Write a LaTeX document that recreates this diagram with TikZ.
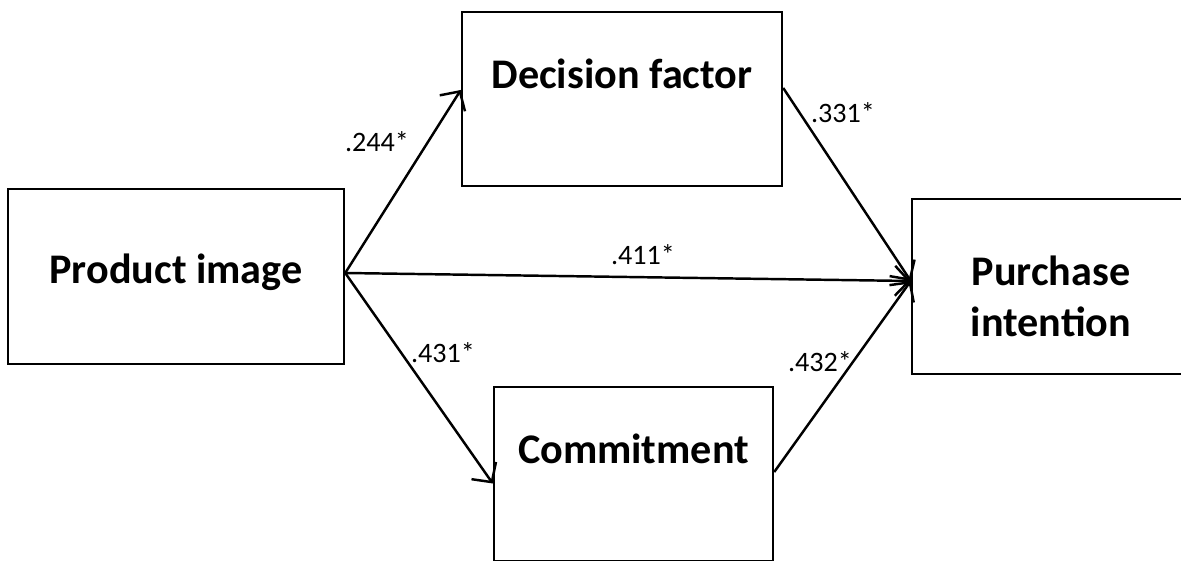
\documentclass[tikz,border=0pt]{standalone}
\usepackage{fontspec}
\setmainfont{Carlito}
\usetikzlibrary{arrows.meta}

\begin{document}
\begin{tikzpicture}[
    box/.style={draw,line width=1.4pt,inner sep=0pt,align=center,
        font=\bfseries\fontsize{24}{29}\selectfont,text height=0.6cm},
    effect/.style={->,>={Straight Barb[length=8pt,width=17pt]},line width=1.4pt},
    coef/.style={font=\fontsize{16}{19}\selectfont}]
    		\clip (0,0) rectangle (23.62,11.2);
    		\node (image) at (3.52,5.67) [box,minimum width=6.72cm,minimum height=3.5cm,text depth=0.32cm] {Product image};
    		\node (decision) at (12.44,9.22) [box,minimum width=6.4cm,minimum height=3.48cm,text depth=1.02cm] {Decision factor};
    		\node (commitment) at (12.67,1.72) [box,minimum width=5.58cm,minimum height=3.48cm,text depth=1.02cm] {Commitment};
    		\node (intention) at (21.02,5.47) [box,minimum width=5.56cm,minimum height=3.5cm,text height=2.0cm,text depth=0cm] {Purchase\\intention};
    		\draw [effect] ([yshift=0.07cm]image.east) -- ([yshift=0.18cm]decision.west);
    		\draw [effect] ([yshift=0.07cm]image.east) -- ([yshift=0.11cm]intention.west);
    		\draw [effect] ([yshift=0.07cm]image.east) -- ([yshift=-0.19cm]commitment.west);
    		\draw [effect] ([yshift=0.22cm]decision.east) -- ([yshift=0.11cm]intention.west);
    		\draw [effect] ([yshift=0.04cm]commitment.east) -- ([yshift=0.11cm]intention.west);
    		\node [coef] at (7.54,8.36) {.244*};
    		\node [coef] at (16.86,8.94) {.331*};
    		\node [coef] at (12.86,6.1) {.411*};
    		\node [coef] at (8.86,4.14) {.431*};
    		\node [coef] at (16.4,3.96) {.432*};
    		\end{tikzpicture}
\end{document}
